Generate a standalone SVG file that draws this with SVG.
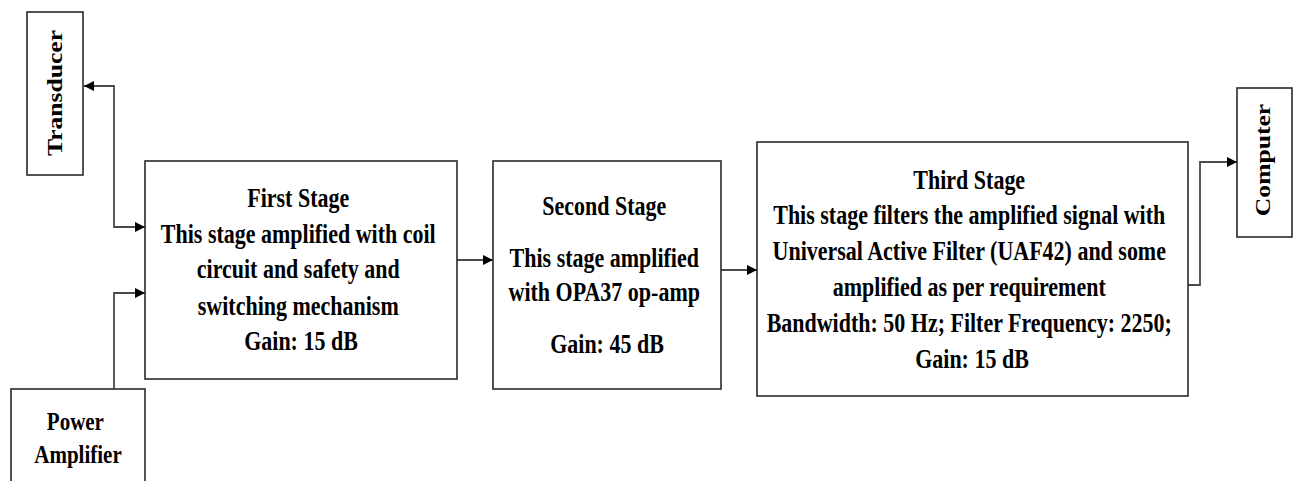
<svg xmlns="http://www.w3.org/2000/svg" width="1298" height="481" viewBox="0 0 1298 481">
  <style>
    .box { fill: #ffffff; stroke: #2a2a2a; stroke-width: 1.6; }
    .lbl { font-family: "Liberation Serif", "Times New Roman", serif; font-weight: bold; fill: #000000; text-anchor: middle; }
    .wire { fill: none; stroke: #4a4a4a; stroke-width: 1.8; }
  </style>
  <defs>
    <marker id="arrow" viewBox="0 0 10 10" refX="10" refY="5" markerUnits="userSpaceOnUse" markerWidth="10" markerHeight="10" orient="auto-start-reverse">
      <path d="M0,0 L10,5 L0,10 z" fill="#000000"/>
    </marker>
  </defs>
  <rect width="1298" height="481" fill="#ffffff"/>

  <!-- connectors -->
  <g id="connectors">
    <path class="wire" d="M84,86 H114 V227 H145" marker-start="url(#arrow)" marker-end="url(#arrow)"/>
    <path class="wire" d="M114,389 V293 H145" marker-end="url(#arrow)"/>
    <path class="wire" d="M457,260 H493" marker-end="url(#arrow)"/>
    <path class="wire" d="M721,270 H757" marker-end="url(#arrow)"/>
    <path class="wire" d="M1188,285 H1200 V162 H1237" marker-end="url(#arrow)"/>
  </g>

  <g id="transducer">
    <rect class="box" x="27" y="12" width="56" height="163"/>
    <g transform="translate(62,93) scale(1,1.28) rotate(-90)">
      <text class="lbl" x="0" y="0" font-size="20">Transducer</text>
    </g>
  </g>

  <g id="power-amplifier">
    <rect class="box" x="11" y="389" width="134" height="120"/>
    <g transform="translate(78,430) scale(1,1.22)">
      <text class="lbl" font-size="21">
        <tspan x="0" y="0">Power</tspan>
        <tspan x="0" y="27">Amplifier</tspan>
      </text>
    </g>
  </g>

  <g id="first-stage">
    <rect class="box" x="145" y="161" width="312" height="218"/>
    <g transform="translate(301,207) scale(1,1.2)">
      <text class="lbl" font-size="22">
        <tspan x="0" y="0">First Stage</tspan>
        <tspan x="0" y="30">This stage amplified with coil</tspan>
        <tspan x="0" y="59">circuit and safety and</tspan>
        <tspan x="0" y="90">switching mechanism</tspan>
        <tspan x="0" y="119">Gain: 15 dB</tspan>
      </text>
    </g>
  </g>

  <g id="second-stage">
    <rect class="box" x="493" y="161" width="228" height="228"/>
    <g transform="translate(607,215) scale(1,1.2)">
      <text class="lbl" font-size="22">
        <tspan x="0" y="0">Second Stage</tspan>
        <tspan x="0" y="43">This stage amplified</tspan>
        <tspan x="0" y="72">with OPA37 op-amp</tspan>
        <tspan x="0" y="115">Gain: 45 dB</tspan>
      </text>
    </g>
  </g>

  <g id="third-stage">
    <rect class="box" x="757" y="142" width="431" height="254"/>
    <g transform="translate(972,189) scale(1,1.2)">
      <text class="lbl" font-size="22">
        <tspan x="0" y="0">Third Stage</tspan>
        <tspan x="0" y="29">This stage filters the amplified signal with</tspan>
        <tspan x="0" y="59">Universal Active Filter (UAF42) and some</tspan>
        <tspan x="0" y="89">amplified as per requirement</tspan>
        <tspan x="0" y="119">Bandwidth: 50 Hz; Filter Frequency: 2250;</tspan>
        <tspan x="0" y="149">Gain: 15 dB</tspan>
      </text>
    </g>
  </g>

  <g id="computer">
    <rect class="box" x="1237" y="88" width="55" height="149"/>
    <g transform="translate(1270,160) scale(1,1.28) rotate(-90)">
      <text class="lbl" x="0" y="0" font-size="20">Computer</text>
    </g>
  </g>
</svg>
